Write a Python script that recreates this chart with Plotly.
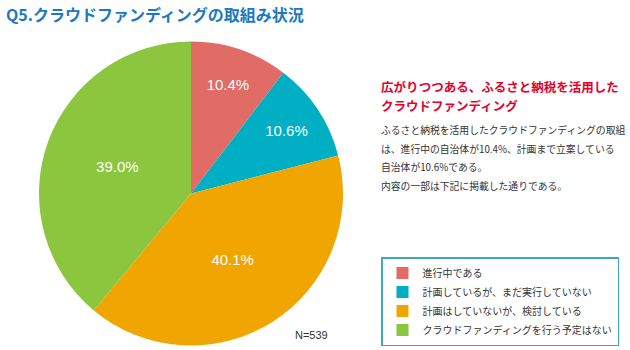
import plotly.graph_objects as go

labels = ["進行中である", "計画しているが、まだ実行していない", "計画はしていないが、検討している", "クラウドファンディングを行う予定はない"]
values = [10.4, 10.6, 40.1, 39.0]
colors = ["#E06C65", "#00AFC4", "#F0A500", "#8CC63F"]
text_labels = ["10.4%", "10.6%", "40.1%", "39.0%"]

W, H = 630, 350
JP = "Noto Sans CJK JP"

fig = go.Figure(go.Pie(
    labels=labels, values=values, sort=False, direction="clockwise", rotation=0,
    marker=dict(colors=colors, line=dict(width=0)),
    text=text_labels, textinfo="text", textposition="inside",
    insidetextorientation="horizontal",
    textfont=dict(family="Liberation Sans, Arial", size=15, color="white"),
    domain=dict(x=[39/W, 343/W], y=[3/H, 310/H]),
    hoverinfo="label+percent",
))

fig.add_annotation(x=4/W, y=1-14/H, xref="paper", yref="paper", xanchor="left", yanchor="middle",
                   text="<b>Q5.クラウドファンディングの取組み状況</b>", showarrow=False,
                   font=dict(family=JP, size=16, color="#1C79C0"))
fig.add_annotation(x=379/W, y=1-86/H, xref="paper", yref="paper", xanchor="left", yanchor="middle",
                   text="<b>広がりつつある、ふるさと納税を活用した</b>", showarrow=False,
                   font=dict(family=JP, size=12.5, color="#E5002D"))
fig.add_annotation(x=379/W, y=1-105/H, xref="paper", yref="paper", xanchor="left", yanchor="middle",
                   text="<b>クラウドファンディング</b>", showarrow=False,
                   font=dict(family=JP, size=12.5, color="#E5002D"))
body = ["ふるさと納税を活用したクラウドファンディングの取組",
        "は、進行中の自治体が10.4%、計画まで立案している",
        "自治体が10.6%である。",
        "内容の一部は下記に掲載した通りである。"]
for i, line in enumerate(body):
    fig.add_annotation(x=379/W, y=1-(130 + i*18.5)/H, xref="paper", yref="paper",
                       xanchor="left", yanchor="middle", text=line, showarrow=False,
                       font=dict(family=JP, size=9.8, color="#333333"))
fig.add_annotation(x=311/W, y=1-335/H, xref="paper", yref="paper", xanchor="center", yanchor="middle",
                   text="N=539", showarrow=False,
                   font=dict(family="Liberation Sans, Arial", size=11, color="#333333"))

fig.update_layout(
    width=W, height=H, margin=dict(l=0, r=0, t=0, b=0),
    paper_bgcolor="white", plot_bgcolor="white",
    showlegend=True,
    legend=dict(x=381/W, y=1-257/H, xanchor="left", yanchor="top",
                bordercolor="#3FA9B8", borderwidth=1.5, bgcolor="white",
                font=dict(family=JP, size=10, color="#333333"),
                itemwidth=30, tracegroupgap=0, traceorder="normal"),
)

fig.write_html("out.html")
